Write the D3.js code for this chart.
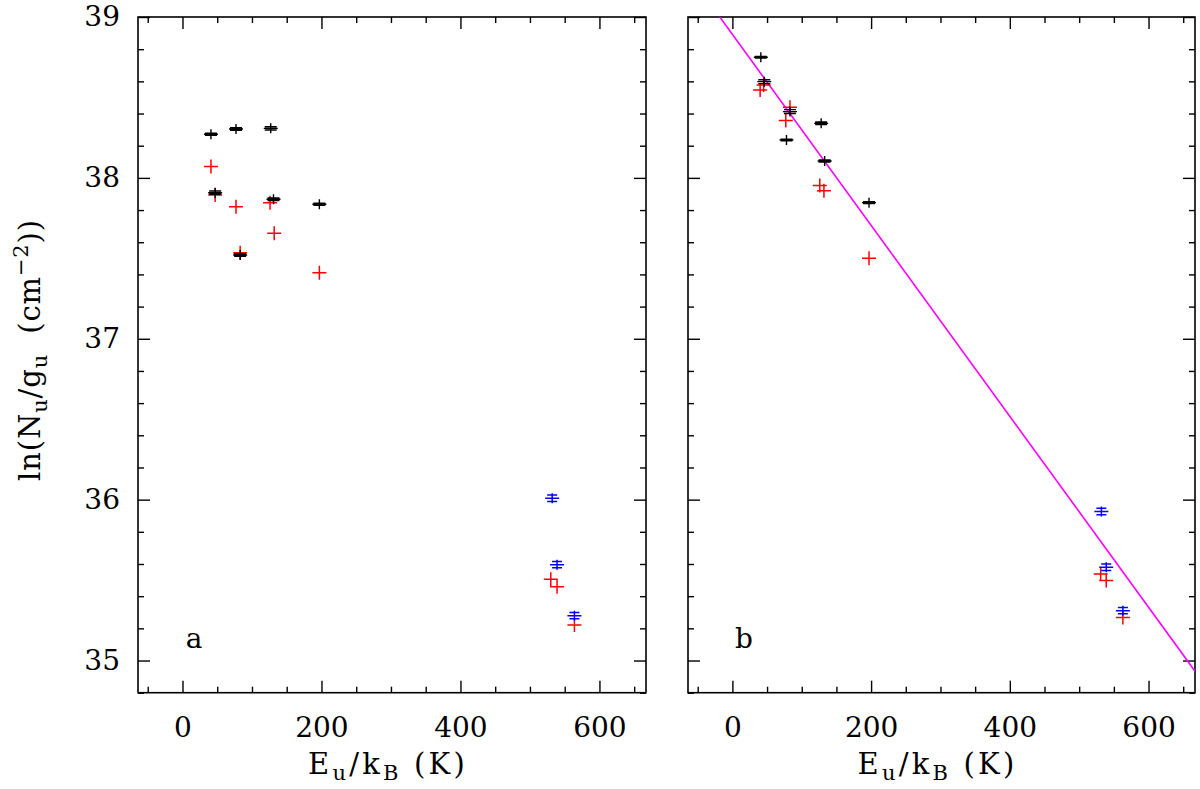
<!DOCTYPE html>
<html><head><meta charset="utf-8">
<script src="https://cdn.jsdelivr.net/npm/d3@7"></script>
<style>
body{margin:0;background:#fff}
text{font-family:"DejaVu Serif",serif;fill:#000}
</style>
</head><body>
<svg id="c" width="1200" height="789"></svg>
<script>
// ---- data (E_u/k_B in K, ln(N_u/g_u), error in ln units) ----
const xMajorTicks = [0, 200, 400, 600];
const xMinorTicks = [-50, 50, 100, 150, 250, 300, 350, 450, 500, 550, 650];
const yMajorTicks = [35, 36, 37, 38, 39];
const yMinorTicks = [34.8, 35.2, 35.4, 35.6, 35.8, 36.2, 36.4, 36.6, 36.8, 37.2, 37.4, 37.6, 37.8, 38.2, 38.4, 38.6, 38.8];
const panelLabels = ["a", "b"];

// panel a
const aBlackE   = [41, 77, 127, 47, 131, 197, 83];
const aBlackLn  = [38.271, 38.304, 38.308, 37.908, 37.867, 37.836, 37.521];
const aBlackErr = [0.006, 0.008, 0.010, 0.010, 0.008, 0.006, 0.008];
const aRedE     = [41, 47, 77, 126, 132, 83, 197];
const aRedLn    = [38.070, 37.894, 37.821, 37.846, 37.656, 37.535, 37.411];
const aBlueE    = [532, 539, 564];
const aBlueLn   = [36.009, 35.596, 35.279];
const aBlueErr  = [0.020, 0.020, 0.020];
const aRed2E    = [530, 539, 564];
const aRed2Ln   = [35.505, 35.459, 35.221];

// panel b
const bBlackE   = [41, 46, 83, 78, 128, 133, 197];
const bBlackLn  = [38.750, 38.598, 38.412, 38.236, 38.339, 38.105, 37.846];
const bBlackErr = [0.005, 0.012, 0.012, 0.005, 0.008, 0.006, 0.006];
const bRedE     = [40, 45, 83, 77, 126, 132, 197];
const bRedLn    = [38.546, 38.577, 38.439, 38.356, 37.952, 37.920, 37.500];
const bBlueE    = [532, 539, 563];
const bBlueLn   = [35.926, 35.580, 35.310];
const bBlueErr  = [0.020, 0.020, 0.020];
const bRed2E    = [531, 539, 563];
const bRed2Ln   = [35.538, 35.497, 35.267];

// rotation-diagram fit (panel b): ln(N/g) = fitIntercept - E / fitTrot
const fitIntercept = 38.892;
const fitTrot = 168.5;

// ---- drawing ----
const svg = d3.select("#c");
const xDomain = [-64, 667];
const yDomain = [34.8, 39];
const plotTop = 17, plotBottom = 692.7;

const panels = [
  {left: 138, right: 646, label: panelLabels[0], showY: true,
   black: {E: aBlackE, L: aBlackLn, err: aBlackErr},
   red: {E: aRedE.concat(aRed2E), L: aRedLn.concat(aRed2Ln)},
   blue: {E: aBlueE, L: aBlueLn, err: aBlueErr}, fit: false},
  {left: 688, right: 1195, label: panelLabels[1], showY: false,
   black: {E: bBlackE, L: bBlackLn, err: bBlackErr},
   red: {E: bRedE.concat(bRed2E), L: bRedLn.concat(bRed2Ln)},
   blue: {E: bBlueE, L: bBlueLn, err: bBlueErr}, fit: true}
];

function styleAxis(g) {
  g.select(".domain").remove();
  g.selectAll(".tick line").attr("stroke", "#000").attr("stroke-width", 1.4);
  g.selectAll("text").attr("font-size", 28).attr("font-family", "DejaVu Serif");
}

// stretch a label's letter spacing so it spans a target width
function fitWidth(t, target) {
  const n = t.text().length;
  const w = t.node().getComputedTextLength();
  if (n > 1 && w < target) t.attr("letter-spacing", ((target - w) / n).toFixed(2));
}

panels.forEach((p, pi) => {
  const x = d3.scaleLinear().domain(xDomain).range([p.left, p.right]);
  const y = d3.scaleLinear().domain(yDomain).range([plotBottom, plotTop]);
  const g = svg.append("g");

  const cid = "clip" + pi;
  svg.append("clipPath").attr("id", cid).append("rect")
    .attr("x", p.left).attr("y", plotTop).attr("width", p.right - p.left).attr("height", plotBottom - plotTop);

  // bottom
  g.append("g").attr("transform", `translate(0,${plotBottom})`)
    .call(d3.axisBottom(x).tickValues(xMajorTicks).tickSize(-12).tickPadding(24).tickFormat(d3.format("d")))
    .call(styleAxis);
  g.append("g").attr("transform", `translate(0,${plotBottom})`)
    .call(d3.axisBottom(x).tickValues(xMinorTicks).tickSize(-6).tickFormat(""))
    .call(styleAxis);
  // top
  g.append("g").attr("transform", `translate(0,${plotTop})`)
    .call(d3.axisTop(x).tickValues(xMajorTicks).tickSize(-12).tickFormat(""))
    .call(styleAxis);
  g.append("g").attr("transform", `translate(0,${plotTop})`)
    .call(d3.axisTop(x).tickValues(xMinorTicks).tickSize(-6).tickFormat(""))
    .call(styleAxis);
  // left
  g.append("g").attr("transform", `translate(${p.left},0)`)
    .call(d3.axisLeft(y).tickValues(yMajorTicks).tickSize(-12).tickPadding(18)
      .tickFormat(p.showY ? d3.format("d") : ""))
    .call(styleAxis);
  g.append("g").attr("transform", `translate(${p.left},0)`)
    .call(d3.axisLeft(y).tickValues(yMinorTicks).tickSize(-6).tickFormat(""))
    .call(styleAxis);
  // right
  g.append("g").attr("transform", `translate(${p.right},0)`)
    .call(d3.axisRight(y).tickValues(yMajorTicks).tickSize(-12).tickFormat(""))
    .call(styleAxis);
  g.append("g").attr("transform", `translate(${p.right},0)`)
    .call(d3.axisRight(y).tickValues(yMinorTicks).tickSize(-6).tickFormat(""))
    .call(styleAxis);

  // frame
  g.append("rect").attr("x", p.left).attr("y", plotTop)
    .attr("width", p.right - p.left).attr("height", plotBottom - plotTop)
    .attr("fill", "none").attr("stroke", "#000").attr("stroke-width", 1.6);

  // fit line
  if (p.fit) {
    g.append("line").attr("clip-path", `url(#${cid})`)
      .attr("x1", x(xDomain[0])).attr("y1", y(fitIntercept - xDomain[0] / fitTrot))
      .attr("x2", x(xDomain[1])).attr("y2", y(fitIntercept - xDomain[1] / fitTrot))
      .attr("stroke", "#ff00ff").attr("stroke-width", 1.6);
  }

  const mk = g.append("g").attr("clip-path", `url(#${cid})`);

  // red pluses
  d3.range(p.red.E.length).forEach(i => {
    const cx = x(p.red.E[i]), cy = y(p.red.L[i]);
    mk.append("path").attr("d", `M${cx-7},${cy}H${cx+7}M${cx},${cy-7}V${cy+7}`)
      .attr("stroke", "#ff0000").attr("stroke-width", 1.5).attr("fill", "none");
  });

  function errPlus(set, color, capW, sw) {
    d3.range(set.E.length).forEach(i => {
      const cx = x(set.E[i]), cy = y(set.L[i]);
      const eu = y(set.L[i] + set.err[i]), ed = y(set.L[i] - set.err[i]);
      const vh = Math.max(5, cy - eu);
      let d = `M${cx-7},${cy}H${cx+7}M${cx},${cy-vh}V${cy+vh}`;
      d += `M${cx-capW},${eu}H${cx+capW}M${cx-capW},${ed}H${cx+capW}`;
      mk.append("path").attr("d", d)
        .attr("stroke", color).attr("stroke-width", sw).attr("fill", "none");
    });
  }
  errPlus(p.black, "#000000", 6, 1.4);
  errPlus(p.blue, "#0000ff", 5, 1.5);

  // panel letter
  g.append("text").attr("x", p.left + 56).attr("y", 648)
    .attr("text-anchor", "middle").attr("font-size", 28).text(p.label);

  // x label
  const xl = g.append("text").attr("x", (p.left + p.right) / 2 - 4).attr("y", 774)
    .attr("text-anchor", "middle").attr("font-size", 29);
  xl.append("tspan").text("E");
  xl.append("tspan").attr("font-size", 21).attr("dy", 6).text("u");
  xl.append("tspan").attr("dy", -6).text("/k");
  xl.append("tspan").attr("font-size", 21).attr("dy", 6).text("B");
  xl.append("tspan").attr("dy", -6).text("\u00a0(K)");
  fitWidth(xl, 160);
});

// y label
const yl = svg.append("text")
  .attr("transform", "translate(40,350) rotate(-90)")
  .attr("text-anchor", "middle").attr("font-size", 29);
yl.append("tspan").text("ln(N");
yl.append("tspan").attr("font-size", 21).attr("dy", 7).text("u");
yl.append("tspan").attr("dy", -7).text("/g");
yl.append("tspan").attr("font-size", 21).attr("dy", 7).text("u");
yl.append("tspan").attr("dy", -7).text("\u00a0\u00a0(cm");
yl.append("tspan").attr("font-size", 21).attr("dy", -12).text("\u22122");
yl.append("tspan").attr("dy", 12).text("))");
fitWidth(yl, 262);
</script>
</body></html>
